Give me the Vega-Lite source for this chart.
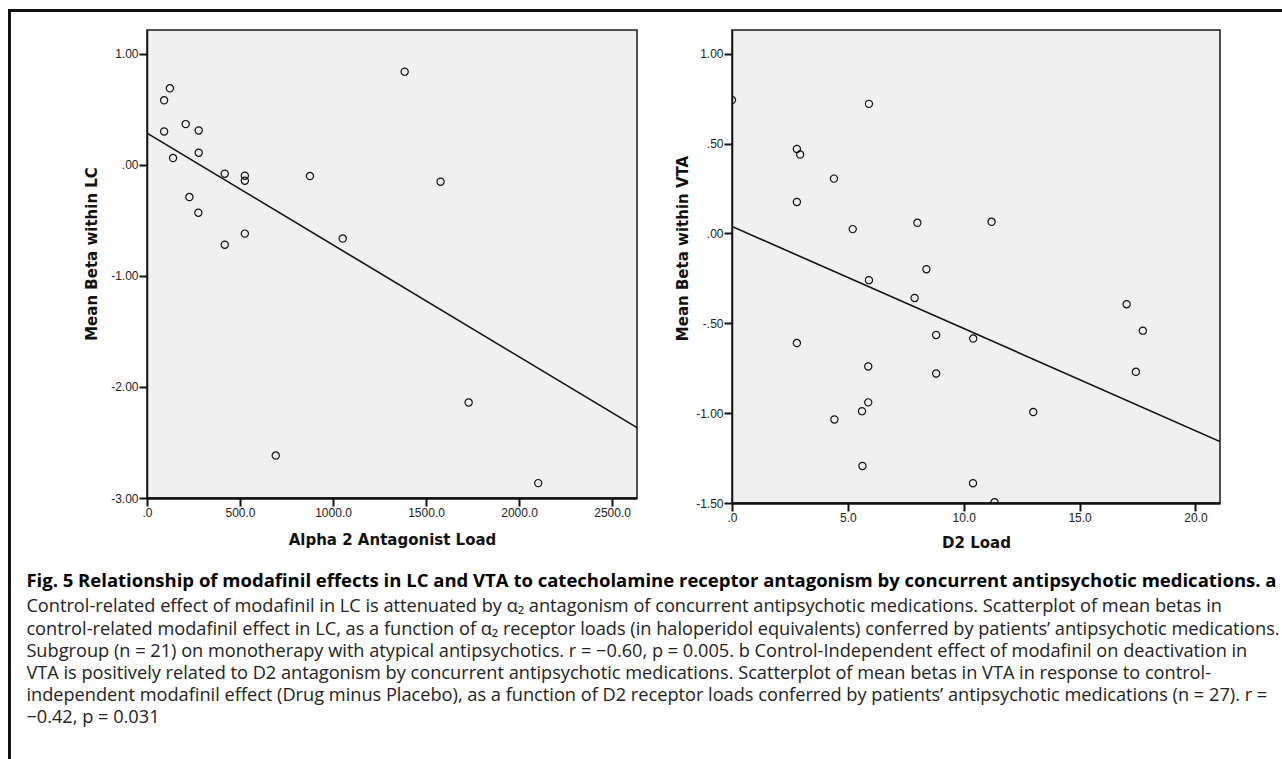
{
  "$schema": "https://vega.github.io/schema/vega-lite/v6.json",
  "background": "white",
  "padding": {"left": 8, "top": 9, "right": 0, "bottom": 0},
  "datasets": {
    "lc": [
      {"load": 92, "beta": 0.58}, {"load": 123, "beta": 0.688}, {"load": 92, "beta": 0.30},
      {"load": 208, "beta": 0.366}, {"load": 278, "beta": 0.309}, {"load": 278, "beta": 0.108},
      {"load": 140, "beta": 0.06}, {"load": 418, "beta": -0.081}, {"load": 526, "beta": -0.099},
      {"load": 526, "beta": -0.144}, {"load": 876, "beta": -0.102}, {"load": 228, "beta": -0.291},
      {"load": 276, "beta": -0.432}, {"load": 418, "beta": -0.72}, {"load": 526, "beta": -0.62},
      {"load": 1052, "beta": -0.664}, {"load": 1385, "beta": 0.838}, {"load": 1578, "beta": -0.153},
      {"load": 1729, "beta": -2.14}, {"load": 692, "beta": -2.618}, {"load": 2103, "beta": -2.866}
    ],
    "lcFit": [{"load": 0, "beta": 0.285}, {"load": 2634, "beta": -2.367}],
    "vta": [
      {"load": 0, "beta": 0.742}, {"load": 5.91, "beta": 0.721}, {"load": 2.80, "beta": 0.470},
      {"load": 2.94, "beta": 0.439}, {"load": 4.40, "beta": 0.305}, {"load": 2.80, "beta": 0.175},
      {"load": 5.21, "beta": 0.024}, {"load": 8.00, "beta": 0.059}, {"load": 11.20, "beta": 0.065},
      {"load": 8.39, "beta": -0.199}, {"load": 5.91, "beta": -0.260}, {"load": 7.88, "beta": -0.359},
      {"load": 17.03, "beta": -0.394}, {"load": 17.73, "beta": -0.541}, {"load": 8.81, "beta": -0.565},
      {"load": 10.41, "beta": -0.585}, {"load": 2.80, "beta": -0.61}, {"load": 5.88, "beta": -0.74},
      {"load": 8.81, "beta": -0.779}, {"load": 17.43, "beta": -0.770}, {"load": 5.88, "beta": -0.94},
      {"load": 5.61, "beta": -0.989}, {"load": 4.42, "beta": -1.035}, {"load": 13.0, "beta": -0.994},
      {"load": 5.63, "beta": -1.294}, {"load": 10.40, "beta": -1.39}, {"load": 11.33, "beta": -1.496}
    ],
    "vtaFit": [{"load": 0, "beta": 0.039}, {"load": 21.06, "beta": -1.158}]
  },
  "spacing": 0,
  "vconcat": [
    {
      "width": 1274, "height": 3,
      "view": {"fill": "#111111", "stroke": null},
      "data": {"values": []},
      "mark": {"type": "text", "text": ""},
      "encoding": {}
    },
    {
      "spacing": 15,
      "hconcat": [
        {
          "width": 3, "height": 747,
          "view": {"fill": "#111111", "stroke": null},
          "data": {"values": []},
          "mark": {"type": "text", "text": ""},
          "encoding": {}
        },
        {
          "spacing": 16,
          "vconcat": [
            {
              "width": 1, "height": 1,
              "view": {"fill": "#ffffff", "stroke": null},
              "data": {"values": []},
              "mark": {"type": "text", "text": ""},
              "encoding": {}
            },
            {
              "title": {
                "text": "Fig. 5 Relationship of modafinil effects in LC and VTA to catecholamine receptor antagonism by concurrent antipsychotic medications. a",
                "subtitle": [
                  "Control-related effect of modafinil in LC is attenuated by α₂ antagonism of concurrent antipsychotic medications. Scatterplot of mean betas in",
                  "control-related modafinil effect in LC, as a function of α₂ receptor loads (in haloperidol equivalents) conferred by patients’ antipsychotic medications.",
                  "Subgroup (n = 21) on monotherapy with atypical antipsychotics. r = −0.60, p = 0.005. b Control-Independent effect of modafinil on deactivation in",
                  "VTA is positively related to D2 antagonism by concurrent antipsychotic medications. Scatterplot of mean betas in VTA in response to control-",
                  "independent modafinil effect (Drug minus Placebo), as a function of D2 receptor loads conferred by patients’ antipsychotic medications (n = 27). r =",
                  "−0.42, p = 0.031"
                ],
                "orient": "bottom",
                "anchor": "start",
                "frame": "bounds",
                "offset": 21,
                "dx": -57.5,
                "font": "Open Sans",
                "fontSize": 18.5,
                "fontWeight": "bold",
                "color": "#000000",
                "subtitleFont": "Open Sans",
                "subtitleFontSize": 18.2,
                "subtitleFontWeight": "normal",
                "subtitleColor": "#222222",
                "subtitleLineHeight": 22.2,
                "subtitlePadding": 7.6
              },
              "spacing": 36,
              "hconcat": [
                {
                  "width": 490,
                  "height": 468,
                  "layer": [
                    {
                      "data": {"name": "lc"},
                      "mark": {"type": "point", "shape": "circle", "filled": false, "stroke": "#111111", "strokeWidth": 1.2, "size": 52, "opacity": 1, "clip": true},
                      "encoding": {
                        "x": {
                          "field": "load", "type": "quantitative", "title": "Alpha 2 Antagonist Load",
                          "scale": {"domain": [0, 2634], "nice": false, "zero": false},
                          "axis": {"values": [0, 500, 1000, 1500, 2000, 2500], "labelExpr": "datum.value == 0 ? '.0' : format(datum.value, '.1f')", "titlePadding": 14.5, "domainWidth": 2.5}
                        },
                        "y": {
                          "field": "beta", "type": "quantitative", "title": "Mean Beta within LC",
                          "scale": {"domain": [-3, 1.213], "nice": false, "zero": false},
                          "axis": {"values": [-3, -2, -1, 0, 1], "labelExpr": "(datum.value < 0 ? '-' : '') + replace(format(abs(datum.value), '.2f'), regexp('^0[.]'), '.')", "titlePadding": 11, "titleY": 223.5}
                        }
                      }
                    },
                    {
                      "data": {"name": "lcFit"},
                      "mark": {"type": "line", "color": "#111111", "strokeWidth": 1.6, "clip": true},
                      "encoding": {
                        "x": {"field": "load", "type": "quantitative"},
                        "y": {"field": "beta", "type": "quantitative"}
                      }
                    }
                  ]
                },
                {
                  "width": 488,
                  "height": 473,
                  "layer": [
                    {
                      "data": {"name": "vta"},
                      "mark": {"type": "point", "shape": "circle", "filled": false, "stroke": "#111111", "strokeWidth": 1.2, "size": 52, "opacity": 1, "clip": true},
                      "encoding": {
                        "x": {
                          "field": "load", "type": "quantitative", "title": "D2 Load",
                          "scale": {"domain": [0, 21.06], "nice": false, "zero": false},
                          "axis": {"values": [0, 5, 10, 15, 20], "labelExpr": "datum.value == 0 ? '.0' : format(datum.value, '.1f')", "titlePadding": 12.5, "domainWidth": 2.5}
                        },
                        "y": {
                          "field": "beta", "type": "quantitative", "title": "Mean Beta within VTA",
                          "scale": {"domain": [-1.5, 1.132], "nice": false, "zero": false},
                          "axis": {"values": [-1.5, -1, -0.5, 0, 0.5, 1], "labelExpr": "(datum.value < 0 ? '-' : '') + replace(format(abs(datum.value), '.2f'), regexp('^0[.]'), '.')", "titlePadding": 5.5, "titleY": 218}
                        }
                      }
                    },
                    {
                      "data": {"name": "vtaFit"},
                      "mark": {"type": "line", "color": "#111111", "strokeWidth": 1.6, "clip": true},
                      "encoding": {
                        "x": {"field": "load", "type": "quantitative"},
                        "y": {"field": "beta", "type": "quantitative"}
                      }
                    }
                  ]
                }
              ]
            }
          ]
        }
      ]
    }
  ],
  "config": {
    "view": {"fill": "#f0f0f0", "stroke": "#1a1a1a", "strokeWidth": 1.5},
    "axis": {
      "labelFont": "Liberation Sans", "labelFontSize": 12, "labelColor": "#222222",
      "labelFlush": false, "labelOverlap": false, "labelPadding": 1,
      "titleFont": "DejaVu Sans", "titleFontSize": 15, "titleFontWeight": "bold", "titleColor": "#111111",
      "tickColor": "#111111", "tickWidth": 2, "tickSize": 8,
      "domainColor": "#111111", "domainWidth": 1.5, "grid": false
    }
  }
}
